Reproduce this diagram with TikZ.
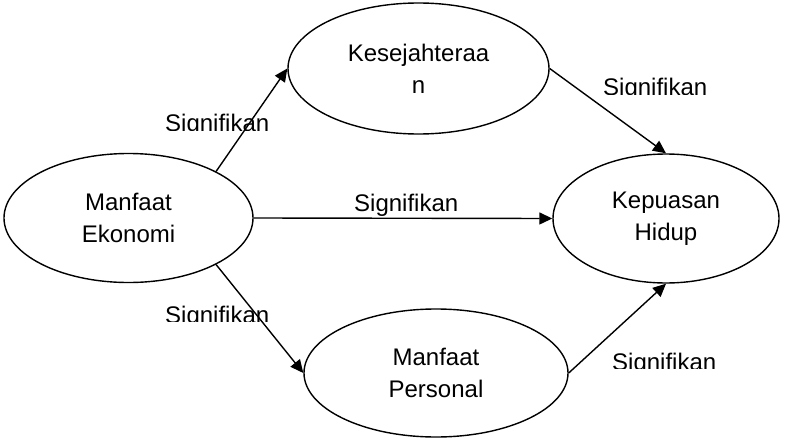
\documentclass[tikz,border=0pt]{standalone}
\usepackage{fontspec}
\setmainfont{Liberation Sans}
\usetikzlibrary{shapes.geometric,arrows.meta}
\tikzset{
  every picture/.style={x=1pt,y=-1pt},
  construct/.style={draw, ellipse, line width=1.4pt, inner sep=0pt, align=center,
    font=\fontsize{24}{32}\selectfont},
  link/.style={line width=1.4pt, -{Triangle[length=13pt,width=12pt]}},
  lbl/.style={inner sep=0pt, anchor=base west, font=\fontsize{24}{28}\selectfont}
}
\begin{document}
\begin{tikzpicture}
\useasboundingbox (0,0) rectangle (785,439);

% constructs
\node[construct, minimum width=249pt, minimum height=129pt] (eko) at (128.5,218) {Manfaat\\Ekonomi};
\node[construct, minimum width=261pt, minimum height=131pt] (kes) at (418.5,68.5) {Kesejahteraa\\n};
\node[construct, minimum width=226pt, minimum height=129pt] (kep) at (666,218.5) {Kepuasan\\Hidup};
\node[construct, minimum width=264pt, minimum height=128pt] (per) at (436,373) {Manfaat\\Personal};

% paths
\draw[link] (eko.28) -- (kes.west);
\draw[link] (eko.east) -- (kep.west);
\draw[link] (eko.-28) -- (per.west);
\draw[link] (kes.east) -- (kep.north);
\draw[link] (per.east) -- (kep.south);

% path labels (text boxes cut off at the bottom)
\begin{scope}
  \clip (160,100) rectangle (290,130.5);
  \node[lbl] (s1) at (165,131.5) {Signifikan};
\end{scope}
\begin{scope}
  \clip (595,60) rectangle (720,94);
  \node[lbl] (s2) at (603,95.5) {Signifikan};
\end{scope}
\node[lbl] (s3) at (354,211) {Signifikan};
\begin{scope}
  \clip (160,290) rectangle (290,321.5);
  \node[lbl] (s4) at (165,323) {Signifikan};
\end{scope}
\begin{scope}
  \clip (605,335) rectangle (730,368);
  \node[lbl] (s5) at (612,370) {Signifikan};
\end{scope}
\end{tikzpicture}
\end{document}
